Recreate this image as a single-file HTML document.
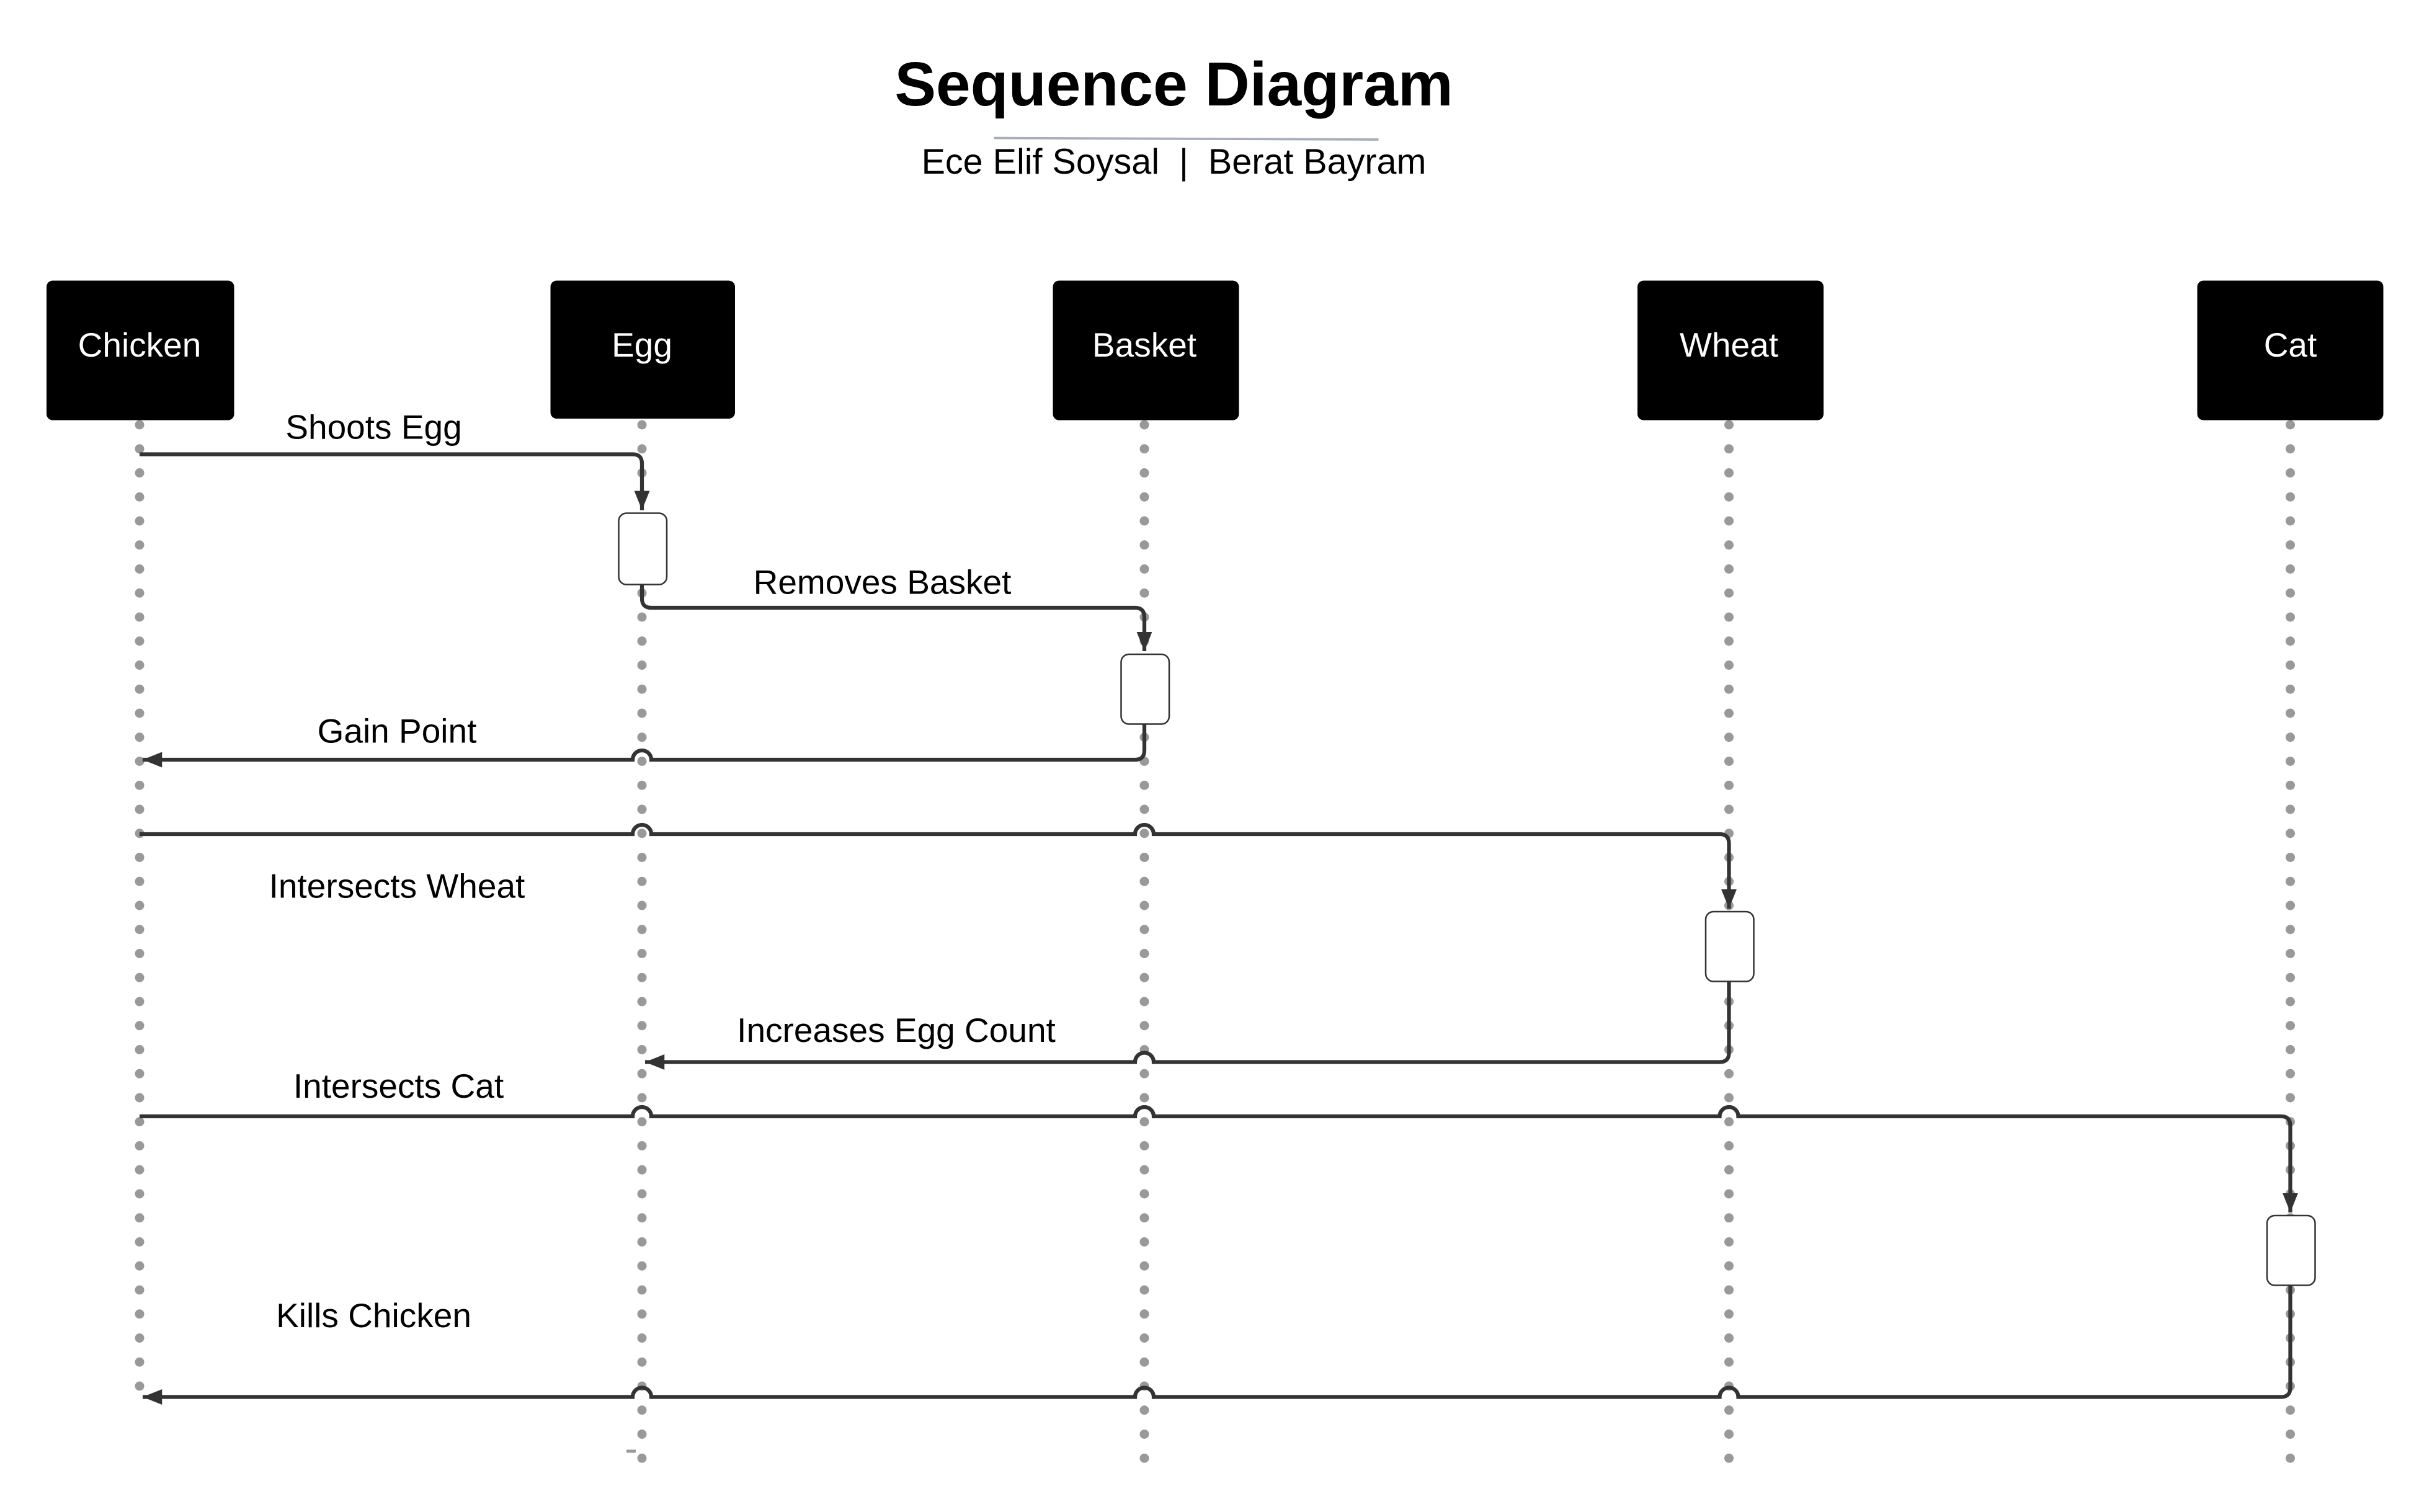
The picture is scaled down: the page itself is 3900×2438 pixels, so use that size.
<!DOCTYPE html>
<html><head><meta charset="utf-8"><style>
html,body{margin:0;padding:0;background:#fff;}
svg{display:block;}
text{font-family:"Liberation Sans",sans-serif;}
</style></head><body>
<svg width="3900" height="2438" viewBox="0 0 1560 975.2" xmlns="http://www.w3.org/2000/svg">
<defs>
<marker id="a" viewBox="0 0 10 10" refX="10" refY="5" markerWidth="5" markerHeight="5" orient="auto" markerUnits="strokeWidth">
<path d="M0,1 L10,5 L0,9 z" fill="#333"/>
</marker>
</defs>
<rect width="1560" height="975.2" fill="#fff"/>
<text x="757" y="68" font-size="40" font-weight="bold" text-anchor="middle" fill="#000">Sequence Diagram</text>
<line x1="641" y1="89" x2="889" y2="90" stroke="#a9adb8" stroke-width="1.5"/>
<text x="757" y="112" font-size="23" text-anchor="middle" fill="#000">Ece Elif Soysal &#160;|&#160; Berat Bayram</text>

<g stroke="#999" stroke-width="6" stroke-linecap="round" stroke-dasharray="0 15.5">
<line x1="90" y1="274" x2="90" y2="902"/>
<line x1="414" y1="274" x2="414" y2="946"/>
<line x1="738" y1="274" x2="738" y2="946"/>
<line x1="1115" y1="274" x2="1115" y2="946"/>
<line x1="1477" y1="274" x2="1477" y2="946"/>
</g>
<line x1="404" y1="936" x2="410" y2="936" stroke="#999" stroke-width="2"/>

<g fill="#000">
<rect x="30" y="181" width="121" height="90" rx="4"/>
<rect x="355" y="181" width="119" height="89" rx="4"/>
<rect x="679" y="181" width="120" height="90" rx="4"/>
<rect x="1056" y="181" width="120" height="90" rx="4"/>
<rect x="1417" y="181" width="120" height="90" rx="4"/>
</g>
<g fill="#fff" font-size="22" text-anchor="middle">
<text x="90" y="230">Chicken</text>
<text x="414" y="230">Egg</text>
<text x="738" y="230">Basket</text>
<text x="1115" y="230">Wheat</text>
<text x="1477" y="230">Cat</text>
</g>

<g fill="none" stroke="#333" stroke-width="2.5">
<path d="M90,293 L408,293 Q414,293 414,299 L414,329" marker-end="url(#a)"/>
<path d="M414,377 L414,386 Q414,392 420,392 L732,392 Q738,392 738,398 L738,420" marker-end="url(#a)"/>
<path d="M738,467 L738,484 Q738,490 732,490 L420,490 A6,6 0 0 0 408,490 L92,490" marker-end="url(#a)"/>
<path d="M90,538 L408,538 A6,6 0 0 1 420,538 L732,538 A6,6 0 0 1 744,538 L1109,538 Q1115,538 1115,544 L1115,586" marker-end="url(#a)"/>
<path d="M1115,633 L1115,679 Q1115,685 1109,685 L744,685 A6,6 0 0 0 732,685 L416,685" marker-end="url(#a)"/>
<path d="M90,720 L408,720 A6,6 0 0 1 420,720 L732,720 A6,6 0 0 1 744,720 L1109,720 A6,6 0 0 1 1121,720 L1471,720 Q1477,720 1477,726 L1477,782" marker-end="url(#a)"/>
<path d="M1477,829 L1477,895 Q1477,901 1471,901 L1121,901 A6,6 0 0 0 1109,901 L744,901 A6,6 0 0 0 732,901 L420,901 A6,6 0 0 0 408,901 L92,901" marker-end="url(#a)"/>
</g>

<g fill="#fff" stroke="#333" stroke-width="1">
<rect x="399" y="331" width="31" height="46" rx="5"/>
<rect x="723" y="422" width="31" height="45" rx="5"/>
<rect x="1100" y="588" width="31" height="45" rx="5"/>
<rect x="1462" y="784" width="31" height="45" rx="5"/>
</g>

<g fill="#000" font-size="22" text-anchor="middle">
<text x="241" y="283">Shoots Egg</text>
<text x="569" y="383">Removes Basket</text>
<text x="256" y="479">Gain Point</text>
<text x="256" y="579">Intersects Wheat</text>
<text x="578" y="672">Increases Egg Count</text>
<text x="257" y="708">Intersects Cat</text>
<text x="241" y="856">Kills Chicken</text>
</g>
</svg>
</body></html>
